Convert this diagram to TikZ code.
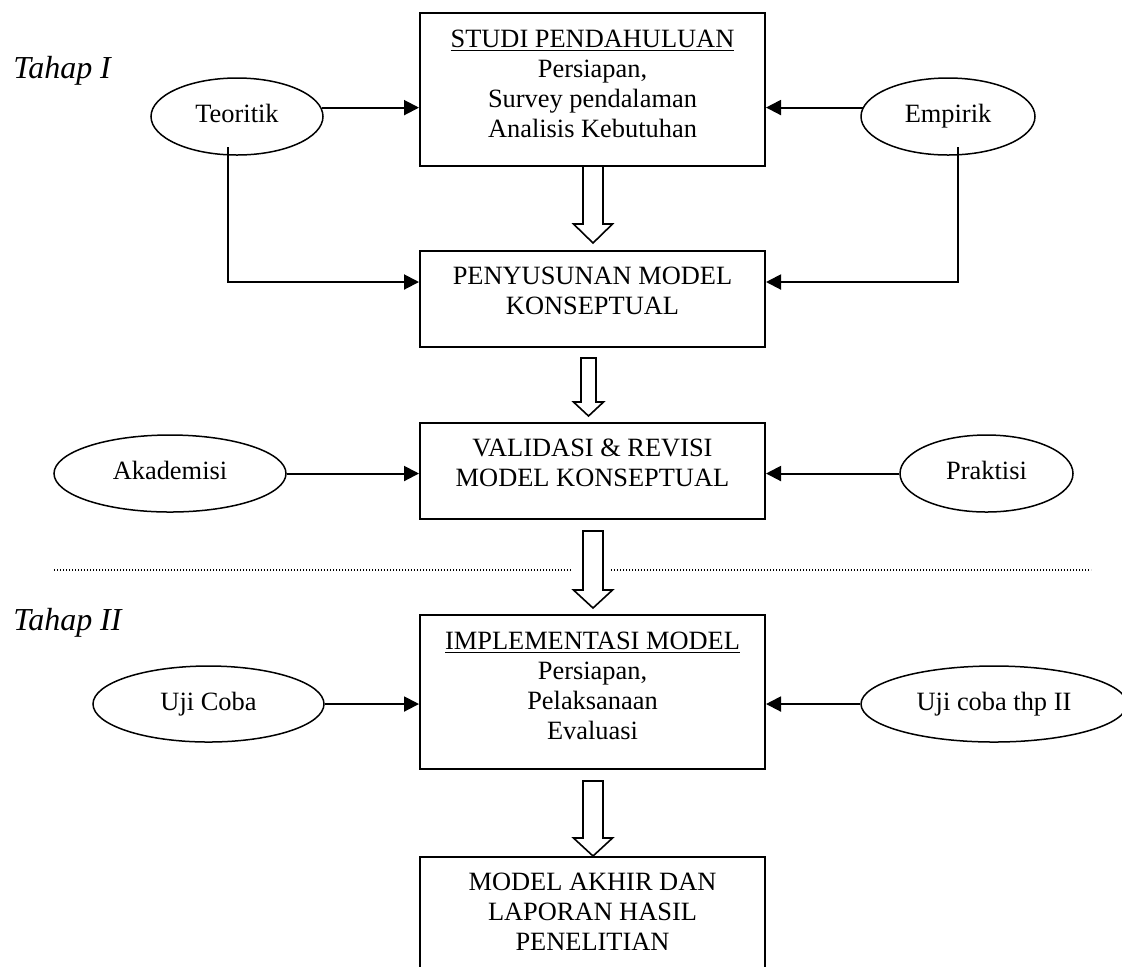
\documentclass[tikz,border=0pt]{standalone}
\usepackage{fontspec}
\setmainfont{Liberation Serif}
\usetikzlibrary{arrows.meta,shapes.geometric,calc}
\newcommand{\HollowDown}[6]{%
  \draw[hollow] (#1-#5,#2) -- (#1-#5,#3) -- (#1-#6,#3) -- (#1,#4) -- (#1+#6,#3) -- (#1+#5,#3) -- (#1+#5,#2) -- cycle;}
\begin{document}
\begin{tikzpicture}[x=0.5pt,y=-0.5pt,
  box/.style={draw,line width=1pt,rectangle,minimum width=172.5pt,inner sep=0pt},
  txt/.style={align=center,inner sep=0pt,font=\fontsize{13.2pt}{15pt}\selectfont},
  oval/.style={draw,line width=0.75pt,ellipse,inner sep=0pt,text height=6.4pt,text depth=0pt,font=\fontsize{13.2pt}{15pt}\selectfont},
  conn/.style={line width=1pt,-{Triangle[length=7.5pt,width=7.5pt]}},
  hollow/.style={line width=0.8pt,fill=white},
  phase/.style={inner sep=0pt,font=\fontsize{16pt}{19pt}\selectfont\itshape},
  divider/.style={line width=0.6pt,dash pattern=on 0.6pt off 0.9pt}]
\useasboundingbox (0,0) rectangle (1122,966);
% phase labels
\node[phase,anchor=base west] (p1) at (13,78) {Tahap I};
\node[phase,anchor=base west] (p2) at (13,630) {Tahap II};
% boxes
\node[box,minimum height=76.5pt] (b1) at (592.5,89.5) {};
\node[box,minimum height=48pt] (b2) at (592.5,299) {};
\node[box,minimum height=48pt] (b3) at (592.5,471) {};
\node[box,minimum height=77pt] (b4) at (592.5,692) {};
\node[box,minimum height=77pt] (b5) at (592.5,934) {};
% box texts
\node[txt,anchor=north] (t1) at (b1.north) {\rule{0pt}{17.5pt}\underline{STUDI PENDAHULUAN}\\Persiapan,\\Survey pendalaman\\Analisis Kebutuhan};
\node[txt,anchor=north] (t2) at (b2.north) {\rule{0pt}{17pt}PENYUSUNAN MODEL\\KONSEPTUAL};
\node[txt,anchor=north] (t3) at (b3.north) {\rule{0pt}{17pt}VALIDASI \& REVISI\\MODEL KONSEPTUAL};
\node[txt,anchor=north] (t4) at (b4.north) {\rule{0pt}{17.5pt}\underline{IMPLEMENTASI MODEL}\\Persiapan,\\Pelaksanaan\\Evaluasi};
\node[txt,anchor=north] (t5) at (b5.north) {\rule{0pt}{17pt}MODEL AKHIR DAN\\LAPORAN HASIL\\PENELITIAN};
% ellipses
\node[oval,minimum width=86pt,minimum height=38.5pt] (te) at (237,116.5) {Teoritik};
\node[oval,minimum width=87pt,minimum height=38.5pt] (em) at (948,116.5) {Empirik};
\node[oval,minimum width=116pt,minimum height=38.5pt] (ak) at (170,473.5) {Akademisi};
\node[oval,minimum width=86.5pt,minimum height=38.5pt] (pr) at (986.5,473.5) {Praktisi};
\node[oval,minimum width=115.5pt,minimum height=38pt] (uc) at (208.5,704) {Uji Coba};
\node[oval,minimum width=133pt,minimum height=38pt] (u2) at (994,704) {Uji coba thp II};
% connectors
\draw[conn] (te.6) -- (te.6 -| b1.west);
\draw[conn] (em.174) -- (em.174 -| b1.east);
\coordinate (tdn) at (228,147);
\coordinate (edn) at (958,147);
\draw[conn] (tdn) |- ($(b2.west)+(0,-17)$);
\draw[conn] (edn) |- ($(b2.east)+(0,-17)$);
\draw[conn] (ak.east) -- (ak.east -| b3.west);
\draw[conn] (pr.west) -- (pr.west -| b3.east);
\draw[conn] (uc.east) -- (uc.east -| b4.west);
\draw[conn] (u2.west) -- (u2.west -| b4.east);
% hollow arrows
\HollowDown{593}{166}{224}{243}{10}{19.5}
\HollowDown{588.5}{358}{402}{416}{7.5}{15}
\HollowDown{593}{531}{590}{608}{10}{19.5}
\HollowDown{593}{781}{838}{856}{10}{19.5}
% divider
\coordinate (d1) at (54,570);
\coordinate (d2) at (572,570);
\coordinate (d3) at (611,570);
\coordinate (d4) at (1091,570);
\draw[divider] (d1) -- (d2);
\draw[divider] (d3) -- (d4);
\end{tikzpicture}
\end{document}
